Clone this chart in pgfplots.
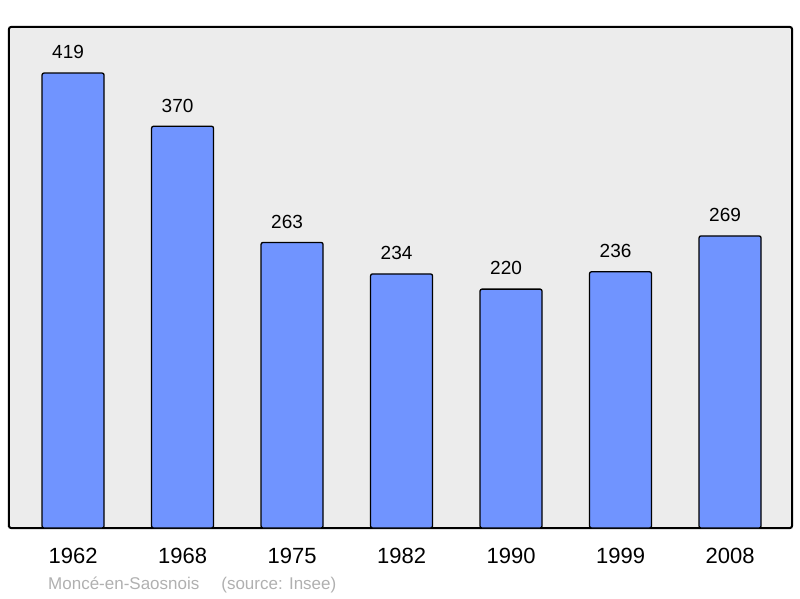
\documentclass[border=0pt]{standalone}
\usepackage{pgfplots}
\pgfplotsset{compat=1.18}
\usepackage{fontspec}
\setmainfont{Liberation Sans}
\definecolor{barblue}{RGB}{112,148,255}
\definecolor{panel}{RGB}{236,236,236}
\definecolor{footgray}{RGB}{176,176,176}
\begin{document}
\begin{tikzpicture}[x=1pt,y=1pt]
\path (0,0) rectangle (800,598);
\begin{axis}[
  at={(9pt,70pt)}, anchor=south west,
  width=783pt, height=501pt, scale only axis,
  ybar, bar width=62pt,
  xmin=-0.585, xmax=6.566,
  ymin=0, ymax=461.4,
  xtick=data,
  xticklabels={1962,1968,1975,1982,1990,1999,2008},
  ytick=\empty,
  major tick length=0pt,
  axis line style={line width=2pt, rounded corners=2pt},
  axis background/.style={fill=panel},
  xticklabel style={font=\fontsize{22}{26}\selectfont, yshift=-17pt},
  nodes near coords,
  every node near coord/.append style={font=\fontsize{19}{22}\selectfont, black,
    yshift=10pt, xshift=-5pt, /pgf/number format/assume math mode=true},
]
\addplot[fill=barblue, draw=black, line width=1.3pt, rounded corners=2pt]
  coordinates {(0,419) (1,370) (2,263) (3,234) (4,220) (5,236) (6,269)};
\end{axis}
\node[anchor=base west, font=\fontsize{17}{20}\selectfont, text=footgray, inner sep=0]
  at (48,9) {Moncé-en-Saosnois\hspace{22pt}(source: Insee)};
\end{tikzpicture}
\end{document}
